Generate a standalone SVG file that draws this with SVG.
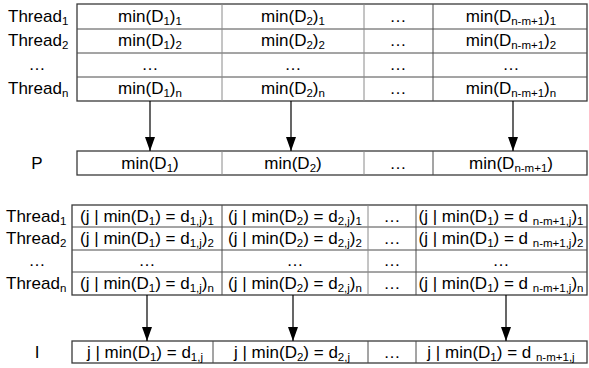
<svg xmlns="http://www.w3.org/2000/svg" width="589" height="368" viewBox="0 0 589 368">
<defs>
<style>
text{font-family:"Liberation Sans",Arial,sans-serif;font-size:17px;fill:#000}
.m{text-anchor:middle}
.s{font-size:11.5px}
.o{fill:none;stroke:#3a3a3a;stroke-width:1.3}
.i{stroke:#4a4a4a;stroke-width:1}
.v{stroke:#8a8a8a;stroke-width:1}
.a{stroke:#000;stroke-width:1.2;fill:none;marker-end:url(#ah)}
</style>
<marker id="ah" markerWidth="14" markerHeight="10" refX="14" refY="5" orient="auto" markerUnits="userSpaceOnUse" viewBox="0 0 14 10">
<path d="M0,0 L14,5 L0,10 Z" fill="#000"/>
</marker>
</defs>
<rect width="589" height="368" fill="#fff"/>

<g id="top-table">
<rect class="o" x="77" y="4" width="510" height="97"/>
<line class="i" x1="77" y1="29" x2="587" y2="29"/>
<line class="i" x1="77" y1="53" x2="587" y2="53"/>
<line class="i" x1="77" y1="77" x2="587" y2="77"/>
<line class="v" x1="222" y1="4" x2="222" y2="101"/>
<line class="v" x1="364" y1="4" x2="364" y2="101"/>
<line class="i" x1="433" y1="4" x2="433" y2="101"/>
<text x="8" y="22">Thread<tspan class="s" dy="3">1</tspan></text>
<text x="8" y="46">Thread<tspan class="s" dy="3">2</tspan></text>
<text x="37" y="70" class="m">…</text>
<text x="8" y="94">Thread<tspan class="s" dy="3">n</tspan></text>
<text x="150" y="22" class="m">min(D<tspan class="s" dy="3">1</tspan><tspan dy="-3">)</tspan><tspan class="s" dy="3">1</tspan></text>
<text x="150" y="46" class="m">min(D<tspan class="s" dy="3">1</tspan><tspan dy="-3">)</tspan><tspan class="s" dy="3">2</tspan></text>
<text x="150" y="70" class="m">…</text>
<text x="150" y="94" class="m">min(D<tspan class="s" dy="3">1</tspan><tspan dy="-3">)</tspan><tspan class="s" dy="3">n</tspan></text>
<text x="293" y="22" class="m">min(D<tspan class="s" dy="3">2</tspan><tspan dy="-3">)</tspan><tspan class="s" dy="3">1</tspan></text>
<text x="293" y="46" class="m">min(D<tspan class="s" dy="3">2</tspan><tspan dy="-3">)</tspan><tspan class="s" dy="3">2</tspan></text>
<text x="293" y="70" class="m">…</text>
<text x="293" y="94" class="m">min(D<tspan class="s" dy="3">2</tspan><tspan dy="-3">)</tspan><tspan class="s" dy="3">n</tspan></text>
<text x="398" y="22" class="m">…</text>
<text x="398" y="46" class="m">…</text>
<text x="398" y="70" class="m">…</text>
<text x="398" y="94" class="m">…</text>
<text x="511" y="22" class="m">min(D<tspan class="s" dy="3">n-m+1</tspan><tspan dy="-3">)</tspan><tspan class="s" dy="3">1</tspan></text>
<text x="511" y="46" class="m">min(D<tspan class="s" dy="3">n-m+1</tspan><tspan dy="-3">)</tspan><tspan class="s" dy="3">2</tspan></text>
<text x="511" y="70" class="m">…</text>
<text x="511" y="94" class="m">min(D<tspan class="s" dy="3">n-m+1</tspan><tspan dy="-3">)</tspan><tspan class="s" dy="3">n</tspan></text>
</g>

<g id="p-table">
<rect class="o" x="77" y="151" width="510" height="24"/>
<line class="v" x1="222" y1="151" x2="222" y2="175"/>
<line class="v" x1="364" y1="151" x2="364" y2="175"/>
<line class="i" x1="433" y1="151" x2="433" y2="175"/>
<text x="37" y="169" class="m">P</text>
<text x="150" y="169" class="m">min(D<tspan class="s" dy="3">1</tspan><tspan dy="-3">)</tspan></text>
<text x="293" y="169" class="m">min(D<tspan class="s" dy="3">2</tspan><tspan dy="-3">)</tspan></text>
<text x="398" y="169" class="m">…</text>
<text x="511" y="169" class="m">min(D<tspan class="s" dy="3">n-m+1</tspan><tspan dy="-3">)</tspan></text>
</g>

<g id="bottom-table">
<rect class="o" x="72" y="205" width="515" height="90"/>
<line class="i" x1="72" y1="227" x2="587" y2="227"/>
<line class="i" x1="72" y1="250" x2="587" y2="250"/>
<line class="i" x1="72" y1="272" x2="587" y2="272"/>
<line class="i" x1="222" y1="205" x2="222" y2="295"/>
<line class="v" x1="368" y1="205" x2="368" y2="295"/>
<line class="i" x1="416" y1="205" x2="416" y2="295"/>
<text x="6" y="222">Thread<tspan class="s" dy="3">1</tspan></text>
<text x="6" y="244">Thread<tspan class="s" dy="3">2</tspan></text>
<text x="37" y="266" class="m">…</text>
<text x="6" y="289">Thread<tspan class="s" dy="3">n</tspan></text>
<text x="147" y="222" class="m">(j | min(D<tspan class="s" dy="3">1</tspan><tspan dy="-3">) = d</tspan><tspan class="s" dy="3">1,j</tspan><tspan dy="-3">)</tspan><tspan class="s" dy="3">1</tspan></text>
<text x="147" y="244" class="m">(j | min(D<tspan class="s" dy="3">1</tspan><tspan dy="-3">) = d</tspan><tspan class="s" dy="3">1,j</tspan><tspan dy="-3">)</tspan><tspan class="s" dy="3">2</tspan></text>
<text x="147" y="266" class="m">…</text>
<text x="147" y="289" class="m">(j | min(D<tspan class="s" dy="3">1</tspan><tspan dy="-3">) = d</tspan><tspan class="s" dy="3">1,j</tspan><tspan dy="-3">)</tspan><tspan class="s" dy="3">n</tspan></text>
<text x="295" y="222" class="m">(j | min(D<tspan class="s" dy="3">2</tspan><tspan dy="-3">) = d</tspan><tspan class="s" dy="3">2,j</tspan><tspan dy="-3">)</tspan><tspan class="s" dy="3">1</tspan></text>
<text x="295" y="244" class="m">(j | min(D<tspan class="s" dy="3">2</tspan><tspan dy="-3">) = d</tspan><tspan class="s" dy="3">2,j</tspan><tspan dy="-3">)</tspan><tspan class="s" dy="3">2</tspan></text>
<text x="295" y="266" class="m">…</text>
<text x="295" y="289" class="m">(j | min(D<tspan class="s" dy="3">2</tspan><tspan dy="-3">) = d</tspan><tspan class="s" dy="3">2,j</tspan><tspan dy="-3">)</tspan><tspan class="s" dy="3">n</tspan></text>
<text x="392" y="222" class="m">…</text>
<text x="392" y="244" class="m">…</text>
<text x="392" y="266" class="m">…</text>
<text x="392" y="289" class="m">…</text>
<text x="501" y="222" class="m">(j | min(D<tspan class="s" dy="3">1</tspan><tspan dy="-3">) = d </tspan><tspan class="s" dy="3">n-m+1,j</tspan><tspan dy="-3">)</tspan><tspan class="s" dy="3">1</tspan></text>
<text x="501" y="244" class="m">(j | min(D<tspan class="s" dy="3">1</tspan><tspan dy="-3">) = d </tspan><tspan class="s" dy="3">n-m+1,j</tspan><tspan dy="-3">)</tspan><tspan class="s" dy="3">2</tspan></text>
<text x="501" y="266" class="m">…</text>
<text x="501" y="289" class="m">(j | min(D<tspan class="s" dy="3">1</tspan><tspan dy="-3">) = d </tspan><tspan class="s" dy="3">n-m+1,j</tspan><tspan dy="-3">)</tspan><tspan class="s" dy="3">n</tspan></text>
</g>

<g id="i-table">
<rect class="o" x="72" y="341" width="515" height="22"/>
<line class="i" x1="213" y1="341" x2="213" y2="363"/>
<line class="i" x1="368" y1="341" x2="368" y2="363"/>
<line class="i" x1="416" y1="341" x2="416" y2="363"/>
<text x="37" y="358" class="m">I</text>
<text x="145" y="358" class="m">j | min(D<tspan class="s" dy="3">1</tspan><tspan dy="-3">) = d</tspan><tspan class="s" dy="3">1,j</tspan></text>
<text x="292" y="358" class="m">j | min(D<tspan class="s" dy="3">2</tspan><tspan dy="-3">) = d</tspan><tspan class="s" dy="3">2,j</tspan></text>
<text x="392" y="358" class="m">…</text>
<text x="501" y="358" class="m">j | min(D<tspan class="s" dy="3">1</tspan><tspan dy="-3">) = d </tspan><tspan class="s" dy="3">n-m+1,j</tspan></text>
</g>

<g id="connectors">
<line class="a" x1="150" y1="101" x2="150" y2="151"/>
<line class="a" x1="291" y1="101" x2="291" y2="151"/>
<line class="a" x1="513" y1="101" x2="513" y2="151"/>
<line class="a" x1="147" y1="295" x2="147" y2="341"/>
<line class="a" x1="293" y1="295" x2="293" y2="341"/>
<line class="a" x1="506" y1="295" x2="506" y2="341"/>
</g>
</svg>
